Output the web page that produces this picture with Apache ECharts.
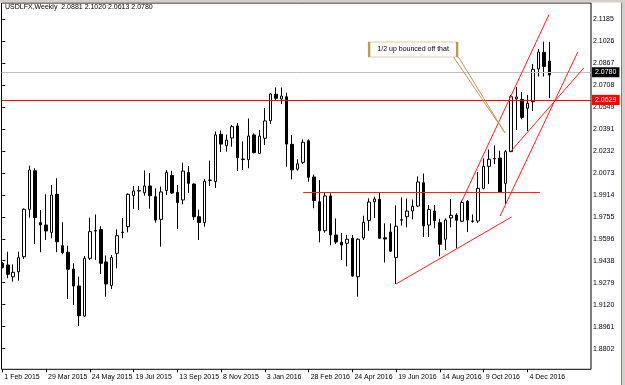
<!DOCTYPE html>
<html>
<head>
<meta charset="utf-8">
<script src="https://cdn.jsdelivr.net/npm/echarts@6/dist/echarts.min.js"></script>
<style>
html, body { margin: 0; padding: 0; background: #fff; }
#chart { width: 625px; height: 385px; }
</style>
</head>
<body>
<div id="chart"></div>
<script>
// weekly USDLFX candles, 1 Feb 2015 .. 1 Jan 2017
const opens = [
	1.9419, 1.9407, 1.9322, 1.9358, 1.9467, 1.9809, 2.0088, 1.9713, 1.9696, 1.9643,
	1.9918, 1.9546, 1.9499, 1.9378, 1.9255, 1.9038, 1.9455, 1.9656, 1.9663, 1.9429,
	1.9259, 1.9491, 1.9642, 1.9684, 1.9909, 1.9942, 1.9929, 1.9978, 1.9901, 1.9737,
	1.9945, 2.0054, 1.9932, 1.9877, 2.0075, 1.9992, 1.9756, 1.9713, 2.0018, 2.0010,
	2.0352, 2.0269, 2.0325, 2.0412, 2.0173, 2.0168, 2.0347, 2.0214, 2.0323, 2.0450,
	2.0641, 2.0607, 2.0623, 2.0279, 2.0099, 2.0149, 2.0305, 2.0043, 1.9864, 1.9655,
	1.9906, 1.9624, 1.9571, 1.9564, 1.9600, 1.9322, 1.9602, 1.9729, 1.9864, 1.9882,
	1.9604, 1.9645, 1.9461, 1.9731, 1.9756, 1.9797, 1.9833, 2.0002, 1.9696, 1.9797,
	1.9713, 1.9593, 1.9747, 1.9768, 1.9723, 1.9867, 1.9725, 1.9725, 1.9961, 2.0120,
	2.0174, 2.0180, 1.9997, 2.0226, 2.0607, 2.0603, 2.0540, 2.0587, 2.0824, 2.0944,
	2.0881
]
const closes = [
	1.9390, 1.9340, 1.9354, 1.9460, 1.9809, 2.0094, 1.9749, 1.9696, 1.9653, 1.9913,
	1.9575, 1.9496, 1.9376, 1.9255, 1.9040, 1.9455, 1.9648, 1.9653, 1.9419, 1.9270,
	1.9461, 1.9619, 1.9645, 1.9918, 1.9942, 1.9944, 1.9978, 1.9908, 1.9732, 1.9935,
	2.0077, 1.9927, 1.9859, 2.0086, 1.9997, 1.9756, 1.9714, 2.0012, 2.0021, 2.0347,
	2.0281, 2.0310, 2.0407, 2.0182, 2.0169, 2.0339, 2.0219, 2.0339, 2.0448, 2.0643,
	2.0612, 2.0628, 2.0281, 2.0094, 2.0138, 2.0294, 2.0041, 1.9873, 1.9655, 1.9906,
	1.9624, 1.9573, 1.9551, 1.9593, 1.9327, 1.9593, 1.9716, 1.9862, 1.9884, 1.9600,
	1.9595, 1.9507, 1.9687, 1.9734, 1.9797, 1.9831, 2.0007, 1.9689, 1.9808, 1.9727,
	1.9557, 1.9732, 1.9766, 1.9730, 1.9859, 1.9732, 1.9723, 1.9961, 2.0120, 2.0171,
	2.0177, 1.9932, 2.0226, 2.0623, 2.0621, 2.0474, 2.0576, 2.0821, 2.0946, 2.0842,
	2.0780
]
const lows = [
	1.9382, 1.9311, 1.9286, 1.9293, 1.9450, 1.9749, 1.9559, 1.9499, 1.9588, 1.9600,
	1.9499, 1.9484, 1.9161, 1.9118, 1.8966, 1.9033, 1.9443, 1.9443, 1.9342, 1.9178,
	1.9233, 1.9383, 1.9600, 1.9643, 1.9812, 1.9804, 1.9908, 1.9814, 1.9713, 1.9539,
	1.9913, 1.9920, 1.9667, 1.9846, 1.9927, 1.9732, 1.9588, 1.9684, 1.9978, 1.9963,
	2.0224, 2.0226, 2.0262, 2.0086, 2.0094, 2.0106, 2.0214, 2.0209, 2.0274, 2.0426,
	2.0600, 2.0571, 2.0117, 2.0026, 2.0088, 2.0137, 2.0009, 1.9817, 1.9571, 1.9640,
	1.9549, 1.9559, 1.9443, 1.9397, 1.9322, 1.9178, 1.9588, 1.9654, 1.9747, 1.9595,
	1.9425, 1.9501, 1.9270, 1.9692, 1.9679, 1.9737, 1.9826, 1.9609, 1.9609, 1.9672,
	1.9470, 1.9515, 1.9679, 1.9528, 1.9718, 1.9645, 1.9713, 1.9710, 1.9954, 1.9992,
	2.0137, 1.9929, 1.9848, 2.0224, 2.0383, 2.0460, 2.0375, 2.0520, 2.0769, 2.0769,
	2.0613
]
const highs = [
	1.9429, 1.9503, 1.9412, 1.9503, 1.9817, 2.0125, 2.0106, 1.9804, 1.9918, 1.9985,
	2.0034, 1.9716, 1.9546, 1.9419, 1.9322, 1.9472, 1.9749, 1.9772, 1.9687, 1.9476,
	1.9479, 1.9665, 1.9747, 1.9925, 1.9978, 1.9978, 2.0090, 2.0072, 1.9961, 1.9974,
	2.0094, 2.0088, 1.9985, 2.0146, 2.0122, 1.9997, 1.9807, 2.0028, 2.0162, 2.0372,
	2.0379, 2.0350, 2.0419, 2.0433, 2.0300, 2.0466, 2.0359, 2.0383, 2.0542, 2.0648,
	2.0691, 2.0690, 2.0652, 2.0347, 2.0171, 2.0315, 2.0315, 2.0061, 2.0021, 1.9929,
	1.9925, 1.9744, 1.9638, 1.9624, 1.9624, 1.9600, 1.9763, 1.9889, 1.9901, 1.9929,
	1.9708, 1.9708, 1.9837, 1.9896, 1.9888, 1.9880, 2.0047, 2.0068, 1.9841, 1.9841,
	1.9741, 1.9744, 1.9884, 1.9781, 1.9873, 1.9877, 1.9773, 2.0079, 2.0177, 2.0242,
	2.0272, 2.0233, 2.0238, 2.0636, 2.0693, 2.0657, 2.0636, 2.0860, 2.0968, 2.1021,
	2.1020
]

// axis ticks
const xTickBars = [0, 8, 16, 24, 32, 40, 48, 56, 64, 72, 80, 88, 96]
const xTickLabels = ['1 Feb 2015', '29 Mar 2015', '24 May 2015', '19 Jul 2015', '13 Sep 2015', '8 Nov 2015', '3 Jan 2016',
	'28 Feb 2016', '24 Apr 2016', '19 Jun 2016', '14 Aug 2016', '9 Oct 2016', '4 Dec 2016']
const yTicks = [2.1185, 2.1026, 2.0867, 2.0708, 2.0549, 2.0391, 2.0232, 2.0073, 1.9914, 1.9755, 1.9596, 1.9438, 1.9279, 1.9120, 1.8961, 1.8802]

// drawings on the chart (bar index, price)
const lastPrice = 2.0780
const redLevels = [2.0602, 2.0629]
const flatLine = [[55.0, 1.9932], [98.3, 1.9932]]
const trendLines = [
	[[84.0, 1.9869], [99.9, 2.1214]],
	[[91.0, 1.9761], [105.2, 2.0946]],
	[[93.0, 2.0231], [106.3, 2.0831]],
	[[72.0, 1.9270], [93.1, 1.9754]],
]
const calloutText = '1/2 up bounced off that'
const calloutAt = [75.1, 2.0965]
const calloutLines = [
	[[82.5, 2.0910], [91.9, 2.0361]],
	[[83.4, 2.0910], [91.9, 2.0361]],
]

const font = 'Liberation Sans'
const chartDom = document.getElementById('chart')
const myChart = echarts.init(chartDom)

const candles = opens.map((o, i) => [i, o, closes[i], lows[i], highs[i]])
const last = candles.length - 1

const levelLine = (value, color, bg) => ({
	yAxis: value,
	lineStyle: { color, width: 1, type: 'solid' },
	label: {
		show: true,
		position: 'end',
		distance: 1,
		formatter: value.toFixed(4),
		color: '#fff',
		backgroundColor: bg,
		padding: [2, 3, 1, 3],
		fontSize: 7,
		fontFamily: font,
	},
})

const segment = (pts, color) => [
	{ coord: pts[0], lineStyle: { color, width: 1, type: 'solid' } },
	{ coord: pts[1] },
]

const option = {
	animation: false,
	backgroundColor: '#fff',
	title: {
		text: 'USDLFX,Weekly  ' + [opens[last], highs[last], lows[last], closes[last]].map((v) => v.toFixed(4)).join(' '),
		left: 5,
		top: 4,
		padding: 0,
		textStyle: { fontSize: 7, fontWeight: 'normal', color: '#000', fontFamily: font },
	},
	grid: {
		left: 1.5,
		top: 3,
		right: 34,
		bottom: 15.7,
		show: true,
		borderColor: '#000',
		borderWidth: 1,
		backgroundColor: '#fff',
		outerBoundsMode: 'none',
	},
	xAxis: {
		type: 'value',
		min: -0.146,
		max: 107.62,
		axisLine: { show: false },
		splitLine: { show: false },
		axisTick: { show: true, length: 3, customValues: xTickBars, lineStyle: { color: '#000' } },
		axisLabel: {
			customValues: xTickBars,
			formatter: (v) => xTickLabels[xTickBars.indexOf(v)] || '',
			align: 'left',
			margin: 4,
			padding: [0, 0, 0, 2],
			fontSize: 7,
			color: '#000',
			fontFamily: font,
		},
	},
	yAxis: {
		type: 'value',
		position: 'right',
		min: 1.86531,
		max: 2.13006,
		axisLine: { show: false },
		splitLine: { show: false },
		axisTick: { show: true, length: 3, customValues: yTicks, lineStyle: { color: '#000' } },
		axisLabel: {
			customValues: yTicks,
			formatter: (v) => v.toFixed(4),
			margin: 2,
			fontSize: 7,
			color: '#000',
			fontFamily: font,
		},
	},
	series: [
		{
			type: 'candlestick',
			data: candles,
			barWidth: 3,
			itemStyle: {
				color: '#fff',
				color0: '#000',
				borderColor: '#000',
				borderColor0: '#000',
				borderWidth: 1,
			},
		},
		{
			// drawing objects
			type: 'line',
			data: [],
			clip: false,
			silent: true,
			markLine: {
				silent: true,
				symbol: ['none', 'none'],
				animation: false,
				data: [
					levelLine(lastPrice, '#c0c0c0', '#000'),
					levelLine(redLevels[0], '#ff0000', '#ff0000'),
					levelLine(redLevels[1], '#ff0000', '#ff0000'),
					segment(flatLine, '#ff2020'),
					...trendLines.map((t) => segment(t, '#ff2020')),
					...calloutLines.map((t) => segment(t, '#b89a5a')),
				],
			},
			markPoint: {
				silent: true,
				animation: false,
				data: [
					{
						coord: calloutAt,
						symbol: 'rect',
						symbolSize: [88, 15],
						itemStyle: { color: '#fff', borderColor: '#b89a5a', borderWidth: 1 },
						label: {
							show: true,
							position: 'inside',
							formatter: calloutText,
							color: '#000',
							fontSize: 7,
							fontFamily: font,
						},
					},
				],
			},
		},
	],
	graphic: [
		{ type: 'rect', shape: { x: 0, y: 0, width: 625, height: 2.5 }, style: { fill: '#d4d0c8' } },
		{ type: 'rect', shape: { x: 622, y: 0, width: 3, height: 385 }, style: { fill: '#d4d0c8' } },
		{ type: 'line', shape: { x1: 621.5, y1: 2.5, x2: 621.5, y2: 385 }, style: { stroke: '#808080', lineWidth: 1 } },
	],
}

option && myChart.setOption(option)
</script>
</body>
</html>
